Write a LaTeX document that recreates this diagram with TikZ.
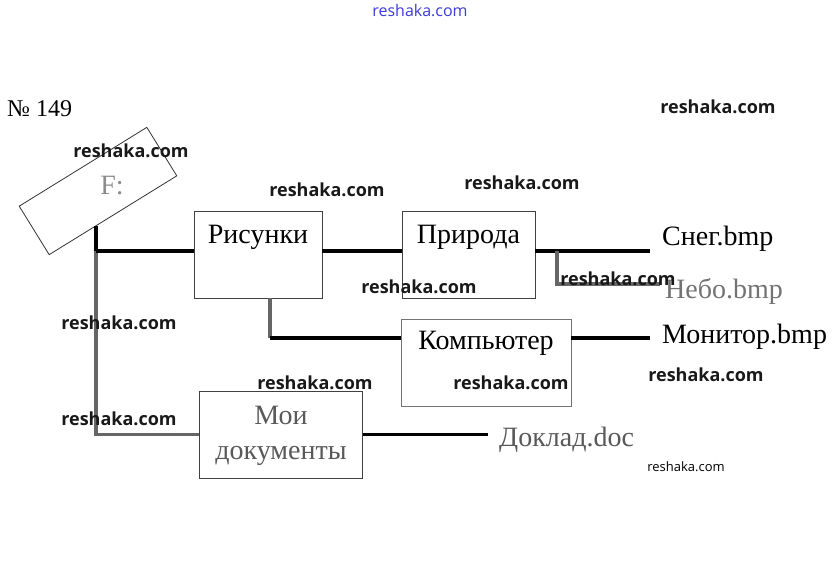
\documentclass[tikz,border=0pt]{standalone}
\usepackage{fontspec}
\setmainfont{Liberation Serif}
\newfontfamily\wmfont{Open Sans}
\usetikzlibrary{calc}
\begin{document}
\begin{tikzpicture}[x=1pt,y=-1pt,
  box/.style={draw=black!75,line width=0.9pt,inner sep=0,minimum height=87},
  txt/.style={font=\fontsize{28}{36}\selectfont,inner sep=0,anchor=base},
  lbl/.style={font=\fontsize{28}{34}\selectfont,inner sep=0,anchor=base west},
  conn/.style={line width=3.5pt,black},
  connG/.style={line width=3.5pt,black!60},
  wm/.style={font=\wmfont\bfseries\fontsize{18}{20}\selectfont,text=black!90,inner sep=0}]
\useasboundingbox (0,0) rectangle (838,576);
\fill[white] (0,0) rectangle (838,576);

\node[font=\fontsize{24}{26}\selectfont,inner sep=0,anchor=base west] (num) at (7,116) {№ 149};

% disk F:
\node[draw=black!80,line width=0.8pt,rotate=31.7,minimum width=150,minimum height=57,inner sep=0] (disk) at (98,191) {};
\node[txt,text=black!45] (diskT) at (112,194) {F:};

% folders
\node[box,minimum width=128] (pics) at (258,254.5) {};
\node[box,minimum width=133] (nature) at (468.5,254.5) {};
\node[box,minimum width=170,draw=black!55] (comp) at (486,363) {};
\node[box,minimum width=163] (mydocs) at (281,434.5) {};

\node[txt] (picsT) at (258,243) {Рисунки};
\node[txt] (natureT) at (468.5,243) {Природа};
\node[txt] (compT) at (486,349) {Компьютер};
\node[txt,text=black!65] (mydocsT1) at (281,424) {Мои};
\node[txt,text=black!65] (mydocsT2) at (281,459) {документы};

% files
\node[lbl] (snow) at (662,245) {Снег.bmp};
\node[lbl,text=black!55] (sky) at (665,298) {Небо.bmp};
\node[lbl] (monitor) at (662,343) {Монитор.bmp};
\node[lbl,text=black!65] (report) at (499,446) {Доклад.doc};

% connectors
\coordinate (row1) at (0,251);
\coordinate (row2) at (0,338);
\coordinate (t1) at ($(disk.south west)!0.367!(disk.south east)$);
\draw[conn] (t1) -- (t1 |- row1);
\draw[connG] (t1 |- row1) |- (mydocs.west);
\draw[conn] (t1 |- row1) -- (pics.west |- row1);
\draw[conn] (pics.east |- row1) -- (nature.west |- row1);
\draw[conn] (nature.east |- row1) -- ($(snow.base west |- row1)+(-12,0)$);
\coordinate (j2) at (557,251);
\draw[connG] (j2) |- ($(sky.base west)+(-5,-14)$);
\coordinate (j3) at ($(pics.south west)!0.594!(pics.south east)$);
\draw[connG] (j3) -- (j3 |- row2);
\draw[conn] (j3 |- row2) -- (comp.west |- row2);
\draw[conn] (comp.east |- row2) -- ($(monitor.base west |- row2)+(-12,0)$);
\draw[conn] (mydocs.east) -- ($(report.base west |- mydocs.east)+(-11,0)$);

% watermarks
\node[font=\wmfont\fontsize{16}{18}\selectfont,text={rgb,255:red,60;green,60;blue,220},inner sep=0] (wm0) at (420,11) {reshaka.com};
\node[wm] (wm1) at (718,107) {reshaka.com};
\node[wm] (wm2) at (131,151) {reshaka.com};
\node[wm] (wm3) at (327,190) {reshaka.com};
\node[wm] (wm4) at (522,183) {reshaka.com};
\node[wm] (wm5) at (419,287) {reshaka.com};
\node[wm] (wm6) at (618,279) {reshaka.com};
\node[wm] (wm7) at (119,323) {reshaka.com};
\node[wm] (wm8) at (315,383) {reshaka.com};
\node[wm] (wm9) at (511,383) {reshaka.com};
\node[wm] (wm10) at (706,375) {reshaka.com};
\node[wm] (wm11) at (119,419) {reshaka.com};
\node[font=\wmfont\fontsize{13}{15}\selectfont,inner sep=0] (wm12) at (686,467) {reshaka.com};
\end{tikzpicture}
\end{document}
